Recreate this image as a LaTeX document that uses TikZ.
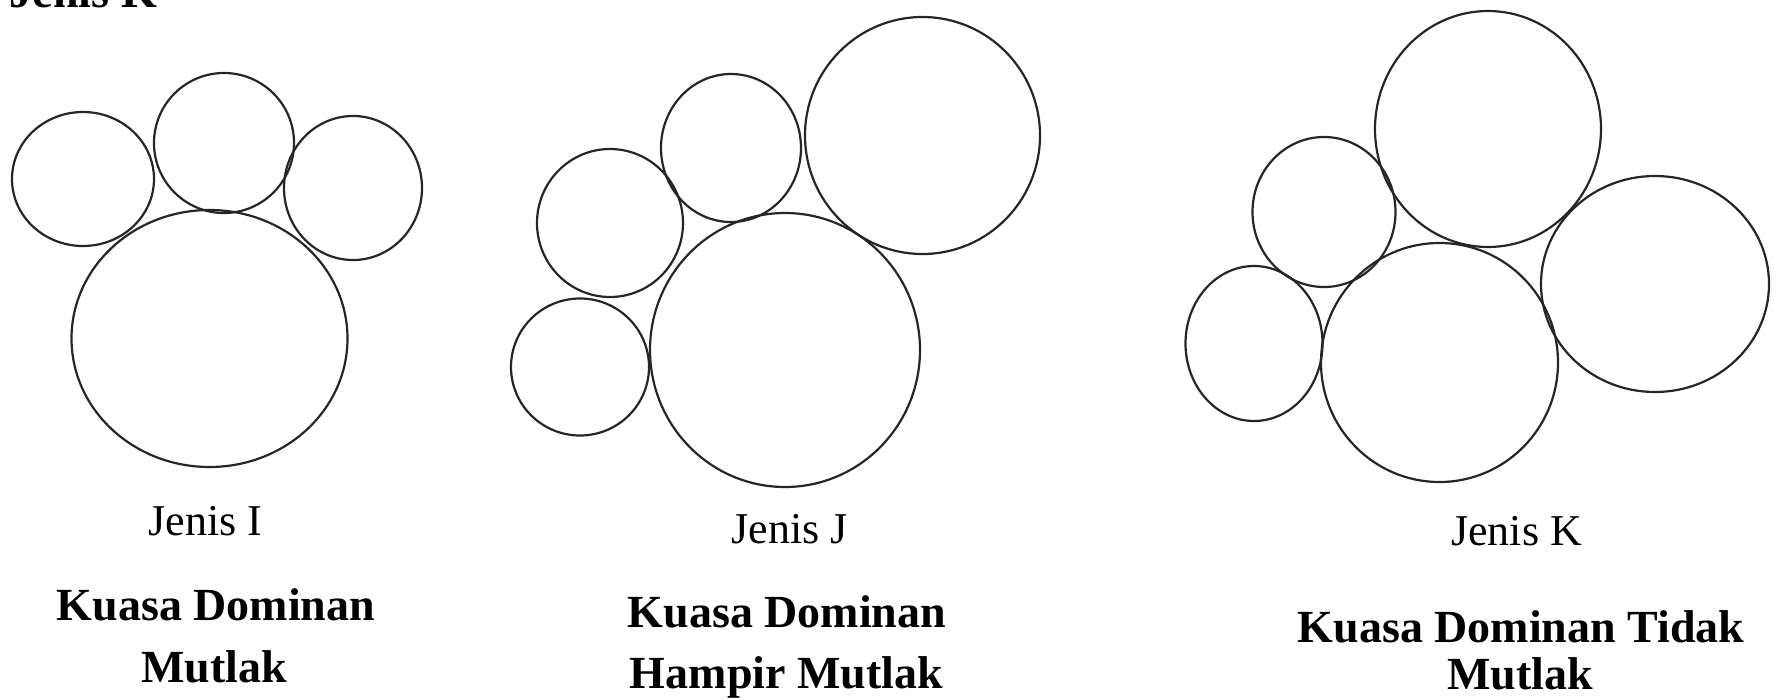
\documentclass[tikz,border=0pt]{standalone}
\usepackage{fontspec}
\setmainfont{Liberation Serif}
\begin{document}
\begin{tikzpicture}[x=1pt,y=-1pt,
  bub/.style={draw=black!85,line width=2.2pt},
  jlabel/.style={anchor=base,inner sep=0pt,font=\fontsize{44}{50}\selectfont},
  klabel/.style={anchor=base,inner sep=0pt,font=\fontsize{46}{52}\selectfont\bfseries}]
\useasboundingbox (0,0) rectangle (1780,699);
\clip (0,0) rectangle (1780,699);
% cut-off heading at the top
\node[anchor=base east,inner sep=0pt,font=\fontsize{46}{52}\selectfont\bfseries] (head) at (157,7) {Jenis K};
% Jenis I
\draw[bub] (83,179) ellipse [x radius=71pt, y radius=67pt];
\draw[bub] (224,143) ellipse [x radius=70pt, y radius=70pt];
\draw[bub] (353,188) ellipse [x radius=69pt, y radius=72pt];
\draw[bub] (209.5,338.5) ellipse [x radius=138pt, y radius=128.5pt];
% Jenis J
\draw[bub] (922.5,135.5) ellipse [x radius=117.5pt, y radius=118.5pt];
\draw[bub] (731,148) ellipse [x radius=70pt, y radius=74pt];
\draw[bub] (610,223) ellipse [x radius=73pt, y radius=74pt];
\draw[bub] (580,367) ellipse [x radius=69pt, y radius=68.5pt];
\draw[bub] (785,350) ellipse [x radius=135pt, y radius=137pt];
% Jenis K
\draw[bub] (1488,129) ellipse [x radius=113pt, y radius=118pt];
\draw[bub] (1324,212) ellipse [x radius=71.5pt, y radius=75pt];
\draw[bub] (1254,343.5) ellipse [x radius=68.5pt, y radius=77.5pt];
\draw[bub] (1439.5,362.5) ellipse [x radius=118.5pt, y radius=119.5pt];
\draw[bub] (1655,284) ellipse [x radius=114pt, y radius=108pt];
% labels
\node[jlabel] (tI) at (205.5,535) {Jenis I};
\node[klabel] (dI1) at (216,620) {Kuasa Dominan};
\node[klabel] (dI2) at (214,682) {Mutlak};
\node[jlabel] (tJ) at (789.5,543) {Jenis J};
\node[klabel] (dJ1) at (787,627) {Kuasa Dominan};
\node[klabel] (dJ2) at (786.5,688) {Hampir Mutlak};
\node[jlabel] (tK) at (1516.5,545) {Jenis K};
\node[klabel] (dK1) at (1521,642) {Kuasa Dominan Tidak};
\node[klabel] (dK2) at (1520,689) {Mutlak};
\end{tikzpicture}
\end{document}
